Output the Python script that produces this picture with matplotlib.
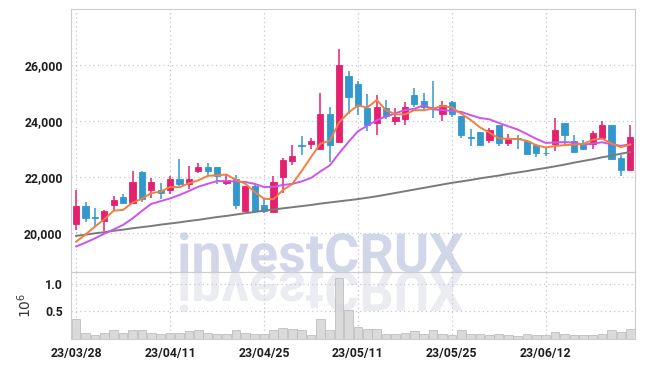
import matplotlib
matplotlib.use("Agg")
import matplotlib.pyplot as plt
import numpy as np
from matplotlib.textpath import TextPath
from matplotlib.patches import PathPatch
from matplotlib.font_manager import FontProperties
from matplotlib.transforms import Affine2D

### Data
dates = ['23/03/28', '23/03/29', '23/03/30', '23/03/31', '23/04/03', '23/04/04', '23/04/05', '23/04/06',
         '23/04/07', '23/04/10', '23/04/11', '23/04/12', '23/04/13', '23/04/14', '23/04/17', '23/04/18',
         '23/04/19', '23/04/20', '23/04/21', '23/04/24', '23/04/25', '23/04/26', '23/04/27', '23/04/28',
         '23/05/02', '23/05/03', '23/05/04', '23/05/08', '23/05/09', '23/05/10', '23/05/11', '23/05/12',
         '23/05/15', '23/05/16', '23/05/17', '23/05/18', '23/05/19', '23/05/22', '23/05/23', '23/05/24',
         '23/05/25', '23/05/26', '23/05/30', '23/05/31', '23/06/01', '23/06/02', '23/06/05', '23/06/07',
         '23/06/08', '23/06/09', '23/06/12', '23/06/13', '23/06/14', '23/06/15', '23/06/16', '23/06/19',
         '23/06/20', '23/06/21', '23/06/22', '23/06/23']

opens = [20320, 20960, 20580, 20430, 21000, 21310, 21090, 22190, 21530, 21550,
         21550, 21940, 21770, 22240, 22350, 22350, 21810, 21940, 20810, 21700,
         21020, 20750, 22000, 22590, 23140, 23200, 23020, 24240, 23260, 25610,
         25320, 24460, 23940, 24460, 24000, 24080, 24940, 24730, 24520, 24260,
         24700, 24200, 23440, 23610, 23320, 23850, 23230, 23400, 23300, 23140,
         22880, 23180, 23940, 23280, 23140, 23200, 23410, 23880, 22670, 22260]
highs = [21550, 21100, 20900, 20830, 21320, 21400, 22240, 22230, 21960, 21790,
         22060, 22640, 22400, 22520, 22490, 22360, 22110, 22080, 21700, 21750,
         21260, 22060, 22670, 23140, 23480, 23390, 24990, 24500, 26590, 25790,
         25440, 24970, 24930, 24750, 24470, 24700, 25180, 25010, 25440, 24730,
         24720, 24200, 23730, 23620, 23770, 23850, 23530, 23520, 23300, 23200,
         23030, 24120, 23950, 23500, 23340, 23650, 24000, 23880, 22810, 23880]
lows = [20120, 20410, 20240, 20080, 20830, 21050, 21050, 21130, 21270, 21230,
        21410, 21700, 21580, 22140, 22050, 21770, 21730, 20870, 20790, 20760,
        20730, 20750, 21450, 22430, 22790, 23000, 23020, 22550, 23260, 24240,
        24230, 23640, 23520, 24080, 23880, 23880, 24500, 24350, 24120, 23990,
        24140, 23400, 23110, 23140, 23230, 23130, 23130, 23000, 22820, 22710,
        22750, 22930, 23140, 22850, 22980, 23000, 23410, 22620, 22050, 22260]
closes = [20960, 20530, 20540, 20810, 21200, 21090, 21830, 21230, 21830, 21440,
          21940, 21770, 21940, 22350, 22240, 22050, 21900, 21000, 21670, 20790,
          20790, 21830, 22610, 22750, 23110, 23280, 24240, 23140, 26020, 24850,
          24550, 23850, 24520, 24170, 24140, 24520, 24610, 24500, 24480, 24590,
          24260, 23500, 23390, 23140, 23670, 23230, 23410, 23370, 22830, 22850,
          22850, 23670, 23520, 22910, 22990, 23590, 23880, 22650, 22260, 23440]

ma5 = [19700, 19960, 20240, 20500, 20808, 20834, 21094, 21232, 21436, 21484,
       21654, 21642, 21784, 21888, 22048, 22070, 22096, 21908, 21772, 21482,
       21230, 21216, 21538, 21754, 22218, 22716, 23198, 23304, 23958, 24306,
       24560, 24482, 24758, 24388, 24246, 24240, 24392, 24388, 24450, 24540,
       24488, 24266, 24044, 23776, 23592, 23386, 23368, 23364, 23302, 23138,
       23062, 23114, 23144, 23160, 23188, 23336, 23378, 23204, 23074, 23164]
ma10 = [19530, 19670, 19820, 19990, 20140, 20300, 20530, 20800, 21050, 21146,
        21244, 21368, 21508, 21662, 21766, 21862, 21869, 21846, 21830, 21765,
        21650, 21656, 21723, 21763, 21850, 21973, 22207, 22421, 22856, 23262,
        23638, 23840, 24031, 24173, 24276, 24400, 24437, 24573, 24419, 24393,
        24364, 24329, 24216, 24113, 24066, 23937, 23817, 23704, 23539, 23365,
        23224, 23241, 23254, 23231, 23163, 23199, 23246, 23174, 23120, 23179]
ma_long = [19910, 19950, 20000, 20040, 20090, 20130, 20180, 20220, 20260, 20310,
           20350, 20390, 20440, 20480, 20530, 20580, 20620, 20670, 20720, 20760,
           20810, 20850, 20890, 20930, 20970, 21010, 21060, 21100, 21140, 21180,
           21220, 21270, 21320, 21380, 21440, 21500, 21560, 21620, 21680, 21740,
           21800, 21850, 21900, 21960, 22010, 22060, 22120, 22170, 22220, 22280,
           22330, 22390, 22450, 22520, 22580, 22640, 22710, 22770, 22840, 22900]

volume = [0.35, 0.10, 0.07, 0.10, 0.15, 0.11, 0.16, 0.15, 0.11, 0.09,
          0.11, 0.11, 0.13, 0.15, 0.11, 0.09, 0.09, 0.15, 0.11, 0.09,
          0.09, 0.15, 0.20, 0.17, 0.15, 0.07, 0.35, 0.15, 1.11, 0.53,
          0.21, 0.18, 0.18, 0.09, 0.09, 0.11, 0.13, 0.09, 0.15, 0.09,
          0.07, 0.15, 0.08, 0.09, 0.07, 0.09, 0.07, 0.05, 0.09, 0.07,
          0.07, 0.12, 0.09, 0.07, 0.07, 0.07, 0.09, 0.16, 0.12, 0.18]

UP = '#e5206f'
DOWN = '#3399cc'
GRID = '#c4c4da'
SPINE = '#cccccc'
TICKFONT = dict(family='Roboto', size=8.8, weight='bold', color='#1e1e1e')

x = np.arange(len(dates))
o = np.array(opens); c = np.array(closes)
h = np.array(highs); l = np.array(lows)
colors = [UP if cc >= oo else DOWN for oo, cc in zip(o, c)]

fig = plt.figure(figsize=(6.45, 3.66), dpi=100, facecolor='white')
ax = fig.add_axes([71/645, 1 - 272/366, 564/645, 263/366])
axv = fig.add_axes([71/645, 1 - 338.5/366, 564/645, 66.5/366], sharex=ax)
for a in (ax, axv):
    a.set_facecolor('none')
    for s in a.spines.values():
        s.set_color(SPINE)
    a.grid(True, linestyle=(0, (1, 2.5)), color=GRID, linewidth=0.9)
    a.set_axisbelow(True)
    a.tick_params(length=0, labelsize=9)

# watermark + reflection (drawn behind the axes)
fp = FontProperties(family='Roboto', weight='bold')
tp = TextPath((0, 0), 'investCRUX', size=100, prop=fp)
ext = tp.get_extents()
sx = 283 / ext.width
sy = 40 / ext.y1
x0 = 180 - ext.x0 * sx
base = 366 - 272.3
fig.add_artist(PathPatch(tp, transform=Affine2D().scale(sx, sy).translate(x0, base),
                         fc='#d1d6e8', ec='none', zorder=-1))
fig.add_artist(PathPatch(tp, transform=Affine2D().scale(sx, -sy).translate(x0, base),
                         fc='#ebecf2', ec='none', zorder=-1))

# candles
body_lo = np.minimum(o, c)
body_h = np.maximum(np.abs(c - o), 25)
ax.vlines(x, l, h, colors=colors, linewidth=1.1, zorder=2)
ax.bar(x, body_h, bottom=body_lo, width=0.66, color=colors, edgecolor=colors,
       linewidth=0.6, zorder=3)

ax.plot(x, ma_long, color='#7a7a7a', linewidth=1.4, zorder=4)
ax.plot(x, ma10, color='#cc55ee', linewidth=1.4, zorder=4)
ax.plot(x, ma5, color='#f08040', linewidth=1.4, zorder=5)

ax.set_xlim(-0.55, 59.5)
ax.set_ylim(18620, 28000)
ax.set_yticks([20000, 22000, 24000, 26000])
ax.set_yticklabels(['20,000', '22,000', '24,000', '26,000'], fontdict=TICKFONT)
ax.tick_params(axis='y', pad=6)
ax.tick_params(axis='x', labelbottom=False)

# volume
axv.bar(x, volume, width=0.92, color='#d4d4d4', edgecolor='#b8b8b8', linewidth=0.6,
        alpha=0.85, zorder=2)
axv.set_ylim(0, 1.22)
axv.set_yticks([0.5, 1.0])
axv.set_yticklabels(['0.5', '1.0'], fontdict=TICKFONT)
axv.tick_params(axis='y', pad=6)
axv.set_xticks(x[::10])
axv.set_xticklabels(dates[::10], fontdict=TICKFONT)
axv.tick_params(axis='x', pad=6)
axv.set_ylabel(r'$10^6$', fontsize=10, color='#333333', labelpad=8)

fig.savefig('out.png', dpi=100, facecolor='white')
